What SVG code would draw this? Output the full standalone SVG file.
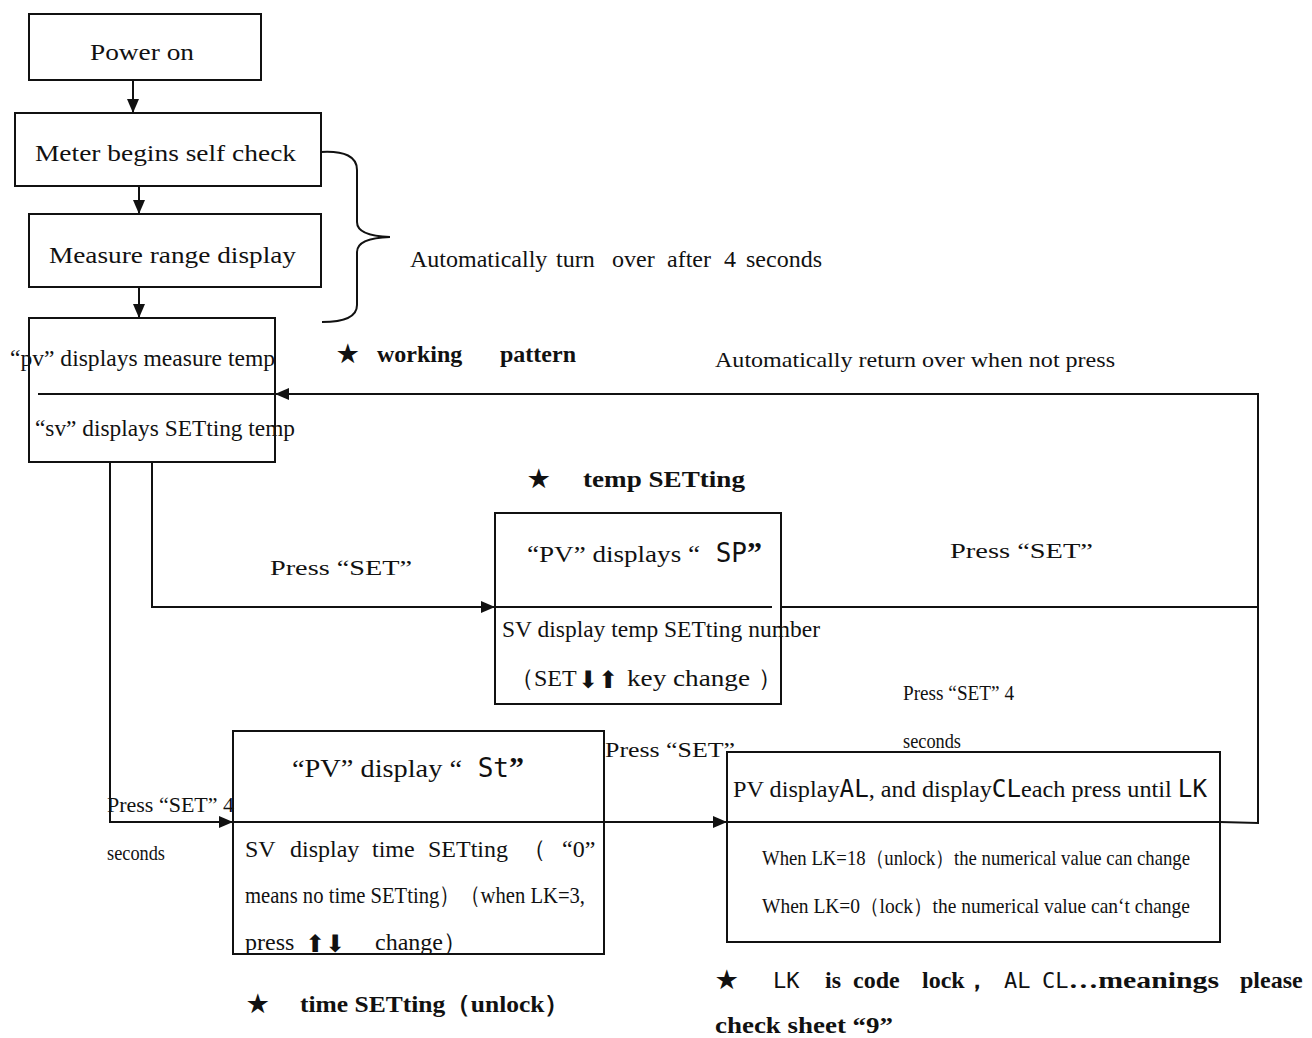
<svg xmlns="http://www.w3.org/2000/svg" width="1312" height="1038" viewBox="0 0 1312 1038">
<style>
text{font-family:"Liberation Serif","Times New Roman",serif;fill:#111;font-size:24px}
.b{font-weight:bold}
.s{font-size:21px}
.seg{font-family:"DejaVu Sans Mono","Liberation Mono",monospace;font-weight:normal}
.ar{font-family:"DejaVu Sans",sans-serif}
.box{fill:none;stroke:#111;stroke-width:2}
.ln{fill:none;stroke:#111;stroke-width:2}
</style>
<defs>
<marker id="ah" markerWidth="14" markerHeight="12" refX="13" refY="6" orient="auto" markerUnits="userSpaceOnUse">
<path d="M0,0 L14,6 L0,12 Z" fill="#111"/>
</marker>
</defs>
<rect width="1312" height="1038" fill="#fff"/>

<g id="connectors">
<line class="ln" x1="133" y1="80" x2="133" y2="112" marker-end="url(#ah)"/>
<line class="ln" x1="139" y1="186" x2="139" y2="213" marker-end="url(#ah)"/>
<line class="ln" x1="139" y1="287" x2="139" y2="317" marker-end="url(#ah)"/>
<polyline class="ln" points="1220,822 1258,823 1258,394 276,394" marker-end="url(#ah)"/>
<line class="ln" x1="781" y1="607" x2="1258" y2="607"/>
<polyline class="ln" points="152,462 152,607 494,607" marker-end="url(#ah)"/>
<polyline class="ln" points="110,462 110,822 232,822" marker-end="url(#ah)"/>
<line class="ln" x1="604" y1="822" x2="726" y2="822" marker-end="url(#ah)"/>
<path class="ln" d="M321,152 Q357,150 357,170 L357,222 Q357,236 390,237 Q357,238 357,252 L357,305 Q357,322 322,322" stroke-width="1.6"/>
</g>

<g id="power-on">
<rect class="box" x="29" y="14" width="232" height="66"/>
<text x="90" y="60" font-size="27" textLength="104" lengthAdjust="spacingAndGlyphs">Power on</text>
</g>
<g id="self-check">
<rect class="box" x="15" y="113" width="306" height="73"/>
<text x="35" y="161" font-size="26" textLength="261" lengthAdjust="spacingAndGlyphs">Meter begins self check</text>
</g>
<g id="range-display">
<rect class="box" x="29" y="214" width="292" height="73"/>
<text x="49" y="263" font-size="26" textLength="247" lengthAdjust="spacingAndGlyphs">Measure range display</text>
</g>
<g id="pv-sv">
<rect class="box" x="29" y="318" width="246" height="144"/>
<line class="ln" x1="38" y1="394" x2="275" y2="394"/>
<text x="10" y="366" textLength="265" lengthAdjust="spacingAndGlyphs">“pv” displays measure temp</text>
<text x="35" y="436" textLength="260" lengthAdjust="spacingAndGlyphs">“sv” displays SETting temp</text>
</g>

<text y="267" font-size="23"><tspan x="410">Automatically </tspan><tspan x="556">turn </tspan><tspan x="612">over </tspan><tspan x="667">after </tspan><tspan x="724">4 </tspan><tspan x="746">seconds</tspan></text>
<text y="362" class="b" font-size="27"><tspan x="337">★ </tspan><tspan x="377">working </tspan><tspan x="500">pattern</tspan></text>
<text x="715" y="367" class="s" textLength="400" lengthAdjust="spacingAndGlyphs">Automatically return over when not press</text>

<text y="487" class="b" font-size="27"><tspan x="528">★ </tspan><tspan x="583" textLength="162" lengthAdjust="spacingAndGlyphs">temp SETting</tspan></text>

<g id="sp-setting">
<rect class="box" x="495" y="513" width="286" height="191"/>
<line class="ln" x1="495" y1="607" x2="772" y2="607"/>
<text x="527" y="562"><tspan textLength="173" lengthAdjust="spacingAndGlyphs">“PV” displays “</tspan><tspan class="seg" font-size="26"> SP</tspan><tspan font-size="30" font-weight="bold">”</tspan></text>
<text x="502" y="637" textLength="318" lengthAdjust="spacingAndGlyphs">SV display temp SETting number</text>
<text x="510" y="686">（SET</text>
<text x="578" y="688" class="ar" font-size="32">⬇⬆</text>
<text x="627" y="686" font-size="26" textLength="123" lengthAdjust="spacingAndGlyphs">key change</text>
<text x="758" y="686">）</text>
</g>

<text x="270" y="575" class="s" textLength="142" lengthAdjust="spacingAndGlyphs">Press    “SET”</text>
<text x="950" y="558" class="s" textLength="143" lengthAdjust="spacingAndGlyphs">Press    “SET”</text>
<text x="903" y="700" class="s" textLength="111" lengthAdjust="spacingAndGlyphs">Press “SET” 4</text>
<text x="903" y="748" class="s" textLength="58" lengthAdjust="spacingAndGlyphs">seconds</text>
<text x="605" y="757" class="s" textLength="130" lengthAdjust="spacingAndGlyphs">Press    “SET”</text>
<text x="107" y="812" class="s" textLength="127" lengthAdjust="spacingAndGlyphs">Press “SET” 4</text>
<text x="107" y="860" class="s" textLength="58" lengthAdjust="spacingAndGlyphs">seconds</text>

<g id="st-setting">
<rect class="box" x="233" y="731" width="371" height="223"/>
<line class="ln" x1="233" y1="822" x2="604" y2="822" stroke="#555"/>
<text x="292" y="777"><tspan font-size="26" textLength="170" lengthAdjust="spacingAndGlyphs">“PV” display “</tspan><tspan class="seg" font-size="26"> St</tspan><tspan font-size="30" font-weight="bold">”</tspan></text>
<text y="857"><tspan x="245">SV </tspan><tspan x="290">display </tspan><tspan x="372">time </tspan><tspan x="428">SETting </tspan><tspan x="522">（ </tspan><tspan x="562">“0”</tspan></text>
<text x="245" y="903" textLength="340" lengthAdjust="spacingAndGlyphs">means no time SETting）（when LK=3,</text>
<text x="245" y="950">press</text>
<text x="305" y="952" class="ar" font-size="30">⬆⬇</text>
<text x="375" y="950">change）</text>
</g>

<g id="lock-setting">
<rect class="box" x="727" y="752" width="493" height="190"/>
<line class="ln" x1="727" y1="822" x2="1220" y2="822"/>
<text x="733" y="797" textLength="474" lengthAdjust="spacingAndGlyphs">PV display<tspan class="seg">AL</tspan>, and display<tspan class="seg">CL</tspan>each press until <tspan class="seg"> LK</tspan></text>
<text x="762" y="865" class="s" textLength="428" lengthAdjust="spacingAndGlyphs">When LK=18（unlock）the numerical value can change</text>
<text x="762" y="913" class="s" textLength="428" lengthAdjust="spacingAndGlyphs">When LK=0（lock）the numerical value can‘t change</text>
</g>

<text y="1012" class="b" font-size="27"><tspan x="247">★ </tspan><tspan x="300" textLength="270" lengthAdjust="spacingAndGlyphs">time SETting（unlock）</tspan></text>
<text y="988" class="b" font-size="26"><tspan x="716">★ </tspan><tspan x="773" class="seg" font-size="22">LK </tspan><tspan x="825">is </tspan><tspan x="853">code </tspan><tspan x="922">lock， </tspan><tspan x="1004" class="seg" font-size="22">AL </tspan><tspan x="1042" class="seg" font-size="22">CL</tspan><tspan textLength="158" lengthAdjust="spacingAndGlyphs">…meanings </tspan><tspan x="1240">please</tspan></text>
<text x="715" y="1033" class="b" font-size="25" textLength="178" lengthAdjust="spacingAndGlyphs">check sheet “9”</text>
</svg>
